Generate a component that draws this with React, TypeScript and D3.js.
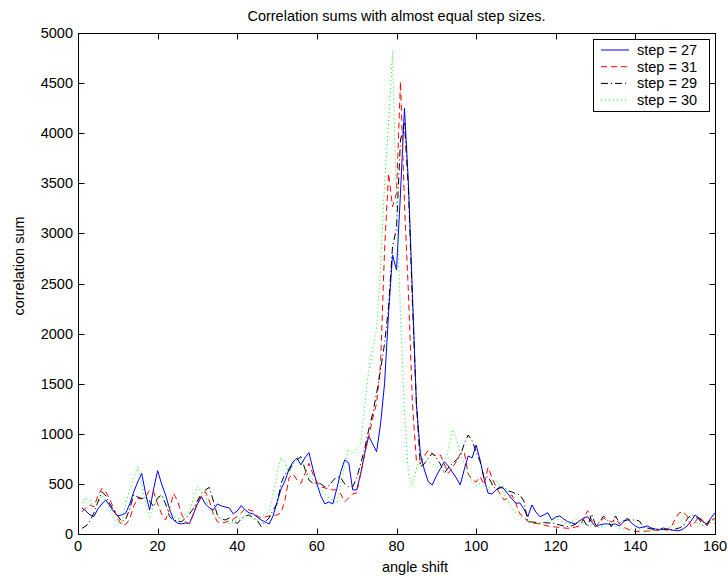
import React from "react";
import * as d3 from "d3";

// angle shift values 1..160
const angles: number[] = d3.range(1, 161);

const step27: number[] = [
  260, 230, 190, 175, 250, 300, 340, 280, 220, 180,
  190, 210, 300, 420, 520, 605, 400, 240, 450, 632,
  500, 390, 250, 140, 110, 100, 110, 105, 200, 300,
  372, 300, 260, 240, 300, 280, 270, 260, 200, 230,
  283, 240, 210, 200, 170, 140, 120, 100, 180, 320,
  450, 530, 650, 720, 757, 690, 760, 812, 650, 500,
  380, 300, 320, 300, 450, 620, 740, 710, 440, 440,
  600, 800, 978, 900, 822, 1100, 1500, 2200, 2785, 2635,
  3400, 4250, 3500, 2400, 1300, 800, 640, 520, 490, 580,
  650, 722, 680, 620, 560, 490, 640, 778, 760, 888,
  738, 550, 408, 400, 440, 472, 450, 400, 350, 308,
  310, 250, 173, 290, 220, 173, 190, 213, 140, 170,
  180, 150, 123, 110, 100, 130, 160, 173, 120, 73,
  90, 100, 100, 95, 100, 80, 120, 160, 110, 80,
  60, 70, 80, 60, 50, 45, 60, 50, 40, 35,
  33, 50, 80, 130, 190, 160, 120, 100, 160, 213,
];

const step31: number[] = [
  223, 260, 290, 270, 380, 455, 420, 345, 250, 150,
  90, 95, 150, 280, 355, 350, 370, 440, 420, 300,
  200, 140, 250, 405, 330, 200, 120, 100, 200, 323,
  380, 423, 330, 200, 123, 110, 115, 130, 150, 173,
  210, 256, 240, 230, 180, 160, 170, 180, 185, 190,
  210, 340, 560, 600, 540, 505, 600, 705, 600, 520,
  472, 460, 450, 440, 440, 400, 322, 360, 400, 408,
  600, 800, 971, 1150, 1304, 1700, 2834, 3600, 3267, 3400,
  4514, 3300, 2400, 1300, 730, 705, 780, 838, 800, 780,
  790, 700, 605, 660, 722, 800, 822, 600, 539, 520,
  572, 490, 665, 560, 472, 400, 340, 360, 390, 300,
  200, 173, 123, 110, 105, 100, 90, 80, 73, 70,
  65, 60, 57, 60, 70, 80, 150, 233, 140, 73,
  120, 157, 140, 120, 150, 100, 70, 50, 35, 25,
  23, 25, 30, 30, 35, 40, 45, 50, 70, 150,
  210, 223, 180, 73, 120, 173, 130, 80, 150, 150,
];

const step29: number[] = [
  57, 80, 130, 210, 320, 423, 380, 300, 240, 180,
  123, 150, 250, 390, 370, 355, 360, 330, 273, 360,
  390, 300, 173, 140, 130, 123, 157, 200, 256, 330,
  405, 440, 465, 330, 190, 150, 140, 160, 130, 105,
  150, 180, 190, 160, 140, 75, 120, 160, 240, 300,
  505, 600, 630, 705, 740, 772, 650, 540, 505, 510,
  500, 470, 480, 530, 572, 560, 500, 472, 472, 560,
  700, 850, 1038, 1200, 1404, 1637, 1900, 2268, 2867, 3051,
  3932, 4099, 3433, 2300, 1304, 672, 700, 760, 805, 760,
  700, 605, 660, 700, 740, 772, 900, 988, 930, 820,
  722, 560, 572, 500, 440, 460, 472, 430, 420, 400,
  390, 330, 123, 120, 115, 110, 115, 110, 110, 100,
  90, 80, 75, 80, 100, 140, 140, 70, 200, 90,
  120, 180, 140, 70, 180, 110, 130, 140, 140, 140,
  130, 70, 60, 50, 45, 45, 45, 40, 45, 50,
  60, 80, 150, 190, 170, 150, 80, 100, 150, 130,
];

const step30: number[] = [
  306, 366, 340, 270, 300, 390, 330, 250, 150, 106,
  130, 300, 450, 556, 672, 500, 300, 173, 280, 350,
  390, 320, 250, 170, 150, 160, 200, 223, 350, 479,
  420, 380, 250, 180, 173, 150, 120, 100, 120, 140,
  160, 190, 170, 150, 140, 170, 200, 223, 400, 600,
  765, 720, 600, 700, 772, 740, 650, 580, 539, 480,
  440, 400, 360, 330, 306, 500, 700, 838, 800, 860,
  905, 1271, 1620, 1850, 2036, 2700, 3500, 4099, 4813, 3300,
  2200, 1200, 600, 490, 650, 772, 740, 720, 700, 680,
  650, 700, 838, 1045, 950, 800, 700, 605, 520, 480,
  505, 480, 450, 500, 539, 480, 400, 330, 260, 206,
  180, 150, 130, 120, 110, 100, 110, 130, 140, 160,
  140, 120, 100, 120, 150, 130, 110, 100, 90, 75,
  60, 80, 110, 90, 75, 60, 55, 50, 50, 45,
  40, 40, 40, 35, 35, 35, 40, 60, 80, 100,
  120, 150, 190, 160, 120, 100, 130, 130, 110, 110,
];

const seriesNames: string[] = ["step = 27", "step = 31", "step = 29", "step = 30"];
const seriesValues: number[][] = [step27, step31, step29, step30];
const seriesColors: string[] = ["#0000ff", "#ff0000", "#000000", "#00ff00"];
const seriesDashes: string[] = ["none", "6,4", "7,3,1,3", "1,3"];

const xTicks: number[] = [0, 20, 40, 60, 80, 100, 120, 140, 160];
const yTicks: number[] = [0, 500, 1000, 1500, 2000, 2500, 3000, 3500, 4000, 4500, 5000];

const titleText = "Correlation sums with almost equal step sizes.";
const xLabel = "angle shift";
const yLabel = "correlation sum";

const W = 728;
const H = 576;
const left = 78;
const right = 715;
const top = 33;
const bottom = 534;
const font = "'Liberation Sans', Arial, Helvetica, sans-serif";
const fs = 14.5;

export default function App() {
  const x = d3.scaleLinear().domain([0, 160]).range([left, right]);
  const y = d3.scaleLinear().domain([0, 5000]).range([bottom, top]);
  const line = d3
    .line<[number, number]>()
    .x((d) => x(d[0]))
    .y((d) => y(d[1]));

  const tick = 6;
  const legendX = 593;
  const legendY = 39;
  const legendW = 116;
  const legendH = 72;
  const rowH = 16.7;

  return (
    <div style={{ position: "absolute", left: 0, top: 0, width: W, height: H, background: "#fff" }}>
      <svg width={W} height={H} style={{ display: "block" }}>
        <rect x={0} y={0} width={W} height={H} fill="#fff" />
        <defs>
          <clipPath id="plotClip">
            <rect x={left} y={top} width={right - left} height={bottom - top} />
          </clipPath>
        </defs>

        {/* data lines */}
        <g clipPath="url(#plotClip)">
          {seriesValues.map((vals, i) => (
            <path
              key={seriesNames[i]}
              d={line(vals.map((v, k) => [angles[k], v] as [number, number])) || ""}
              fill="none"
              stroke={seriesColors[i]}
              strokeWidth={1}
              strokeDasharray={seriesDashes[i]}
              strokeLinejoin="round"
            />
          ))}
        </g>

        {/* axes box */}
        <rect
          x={left + 0.5}
          y={top + 0.5}
          width={right - left}
          height={bottom - top}
          fill="none"
          stroke="#000"
          strokeWidth={1}
        />

        {/* x ticks, bottom and top */}
        {xTicks.map((t) => {
          const px = Math.round(x(t)) + 0.5;
          return (
            <g key={"xt" + t}>
              <line x1={px} x2={px} y1={bottom + 0.5} y2={bottom + 0.5 - tick} stroke="#000" />
              <line x1={px} x2={px} y1={top + 0.5} y2={top + 0.5 + tick} stroke="#000" />
              <text
                x={x(t)}
                y={bottom + 17}
                textAnchor="middle"
                fontFamily={font}
                fontSize={fs}
                fill="#000"
              >
                {t}
              </text>
            </g>
          );
        })}

        {/* y ticks, left and right */}
        {yTicks.map((t) => {
          const py = Math.round(y(t)) + 0.5;
          return (
            <g key={"yt" + t}>
              <line x1={left + 0.5} x2={left + 0.5 + tick} y1={py} y2={py} stroke="#000" />
              <line x1={right + 0.5} x2={right + 0.5 - tick} y1={py} y2={py} stroke="#000" />
              <text
                x={left - 5}
                y={y(t) + 5}
                textAnchor="end"
                fontFamily={font}
                fontSize={fs}
                fill="#000"
              >
                {t}
              </text>
            </g>
          );
        })}

        {/* title and axis labels */}
        <text
          x={(left + right) / 2}
          y={21}
          textAnchor="middle"
          fontFamily={font}
          fontSize={fs}
          fill="#000"
        >
          {titleText}
        </text>
        <text
          x={415}
          y={572}
          textAnchor="middle"
          fontFamily={font}
          fontSize={fs}
          fill="#000"
        >
          {xLabel}
        </text>
        <text
          transform={`translate(24,266) rotate(-90)`}
          textAnchor="middle"
          fontFamily={font}
          fontSize={fs}
          fill="#000"
        >
          {yLabel}
        </text>

        {/* legend */}
        <rect
          x={legendX + 0.5}
          y={legendY + 0.5}
          width={legendW}
          height={legendH}
          fill="#fff"
          stroke="#000"
          strokeWidth={1}
        />
        {seriesNames.map((name, i) => {
          const cy = legendY + 11 + i * rowH;
          return (
            <g key={"lg" + name}>
              <line
                x1={legendX + 8}
                x2={legendX + 36}
                y1={cy}
                y2={cy}
                stroke={seriesColors[i]}
                strokeWidth={1}
                strokeDasharray={seriesDashes[i]}
              />
              <text
                x={legendX + 44}
                y={cy + 5}
                fontFamily={font}
                fontSize={fs}
                fill="#000"
              >
                {name}
              </text>
            </g>
          );
        })}
      </svg>
    </div>
  );
}
